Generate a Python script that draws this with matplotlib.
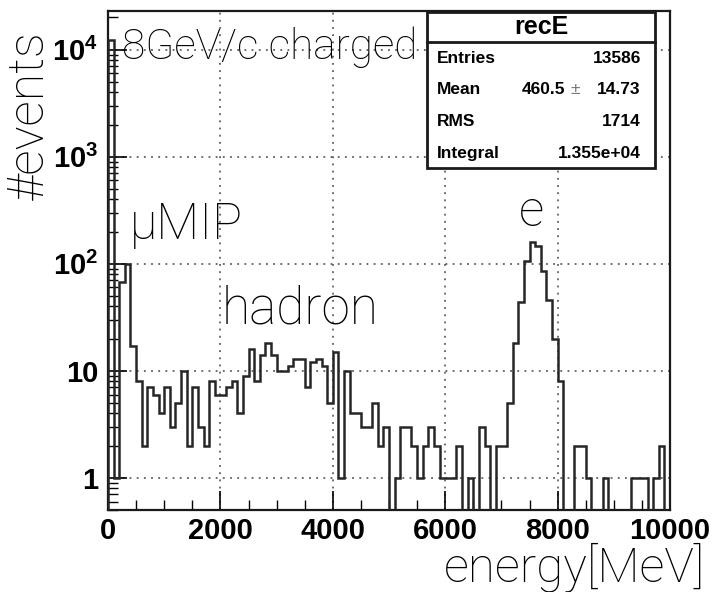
import numpy as np
import matplotlib
matplotlib.use("Agg")
import matplotlib.pyplot as plt
from matplotlib.ticker import FixedLocator, FixedFormatter, MultipleLocator, NullFormatter

plt.rcParams['mathtext.fontset'] = 'custom'
plt.rcParams['mathtext.rm'] = 'Liberation Sans:bold'
plt.rcParams['mathtext.bf'] = 'Liberation Sans:bold'

# ---- data (counts per 100 MeV bin, 0..10000 MeV) ----
bin_width = 100
counts = [12350, 1, 68, 100, 17, 8, 2, 7, 6, 4,
          7, 3, 5, 10, 2, 7, 3, 2, 8, 6,
          6, 7, 8, 4, 9, 16, 8, 14, 18, 14,
          10, 10, 11, 13, 13, 7, 12, 13, 11, 5,
          15, 1, 10, 4, 4, 3, 3, 5, 2, 3,
          0, 1, 3, 3, 2, 1, 2, 3, 2, 1,
          1, 1, 2, 0, 1, 0, 3, 2, 0, 2,
          2, 5, 18, 44, 107, 158, 147, 85, 46, 20,
          8, 0, 0, 2, 2, 1, 0, 0, 1, 0,
          0, 0, 0, 1, 1, 1, 0, 1, 2, 0]
x_ticks = [0, 2000, 4000, 6000, 8000, 10000]
x_ticklabels = ['0', '2000', '4000', '6000', '8000', '10000']
y_ticks = [1, 10, 100, 1000, 10000]
y_ticklabels = ['1', '10', r'$\mathbf{10^{2}}$', r'$\mathbf{10^{3}}$', r'$\mathbf{10^{4}}$']
stat_names = ['Entries', 'Mean', 'RMS', 'Integral']
stat_values = ['13586', '14.73', '1714', '1.355e+04']
mean_value = '460.5'
hist_name = 'recE'

counts = np.array(counts, dtype=float)
edges = np.arange(0, bin_width * (len(counts) + 1), bin_width)

fig = plt.figure(figsize=(7.13, 5.92), dpi=100)
ax = fig.add_axes([108/713, 1-510/592, 562/713, 499/592])
ax.set_yscale('log')
ax.set_xlim(0, 10000)
ax.set_ylim(0.5, 2.3e4)

draw_counts = np.clip(counts, 1e-2, None)
ax.stairs(draw_counts, edges, baseline=1e-2, fill=False, color='#262626', lw=1.8, zorder=3)

ax.xaxis.set_major_locator(FixedLocator(x_ticks))
ax.xaxis.set_major_formatter(FixedFormatter(x_ticklabels))
ax.xaxis.set_minor_locator(MultipleLocator(500))
ax.yaxis.set_major_locator(FixedLocator(y_ticks))
ax.yaxis.set_major_formatter(FixedFormatter(y_ticklabels))
minor_y = [m * 10.0**e for e in range(-1, 5) for m in range(2, 10)]
ax.yaxis.set_minor_locator(FixedLocator(minor_y))
ax.yaxis.set_minor_formatter(NullFormatter())

ax.tick_params(axis='both', which='both', direction='in', top=False, right=False)
ax.tick_params(axis='both', which='major', length=14, width=1.2, pad=7)
ax.tick_params(axis='x', which='major', pad=5)
ax.tick_params(axis='both', which='minor', length=7, width=1.0)
for lab in ax.get_xticklabels() + ax.get_yticklabels():
    lab.set_fontfamily('Liberation Sans')
    lab.set_fontweight('bold')
    lab.set_fontsize(21)

ax.grid(True, which='major', color='#444444', linestyle=(0, (1.2, 3.5)), lw=1.1)
for s in ax.spines.values():
    s.set_linewidth(1.6)
    s.set_color('#1a1a1a')

light = dict(family=['Roboto', 'DejaVu Sans'], fontweight='light', color='black')
ax.text(0.025, 0.928, '8GeV/c charged', transform=ax.transAxes, fontsize=30.5,
        ha='left', va='center', **light)
ax.text(0.139, 0.571, 'μMIP', transform=ax.transAxes, fontsize=36,
        ha='center', va='center', **light)
ax.text(0.342, 0.401, 'hadron', transform=ax.transAxes, fontsize=37,
        ha='center', va='center', **light)
ax.text(0.753, 0.597, 'e', transform=ax.transAxes, fontsize=36,
        ha='center', va='center', **light)
fig.text(0.041, 0.806, '#events', rotation=90, fontsize=36, ha='center', va='center', **light)
fig.text(0.989, 1 - 582/592, 'energy[MeV]', fontsize=35.5, ha='right', va='baseline', **light)

# stats box
bx0, bx1, by0, by1, bh = 0.5676, 0.9733, 0.685, 0.998, 0.938
ax.add_patch(plt.Rectangle((bx0, by0), bx1 - bx0, by1 - by0, transform=ax.transAxes,
                           facecolor='white', edgecolor='#1a1a1a', lw=2.0, zorder=5,
                           clip_on=False))
ax.plot([bx0, bx1], [bh, bh], transform=ax.transAxes, color='#1a1a1a', lw=2.0, zorder=6,
        clip_on=False)
ax.text((bx0 + bx1) / 2, 0.968, hist_name, transform=ax.transAxes, ha='center', va='center',
        fontsize=18, fontweight='bold', family='Liberation Sans', zorder=7)
rows_y = [0.9058, 0.8417, 0.7776, 0.7154]
sfont = dict(family='Liberation Sans', fontsize=12.5, fontweight='bold', zorder=7)
for name, val, yy in zip(stat_names, stat_values, rows_y):
    ax.text(0.585, yy, name, transform=ax.transAxes, ha='left', va='center', **sfont)
    ax.text(0.948, yy, val, transform=ax.transAxes, ha='right', va='center', **sfont)
ax.text(0.813, rows_y[1], mean_value, transform=ax.transAxes, ha='right', va='center', **sfont)
ax.text(0.832, rows_y[1], '±', transform=ax.transAxes, ha='center', va='center',
        family='Liberation Sans', fontsize=12.5, color='#777777', zorder=7)

fig.savefig('out.png', dpi=100)
